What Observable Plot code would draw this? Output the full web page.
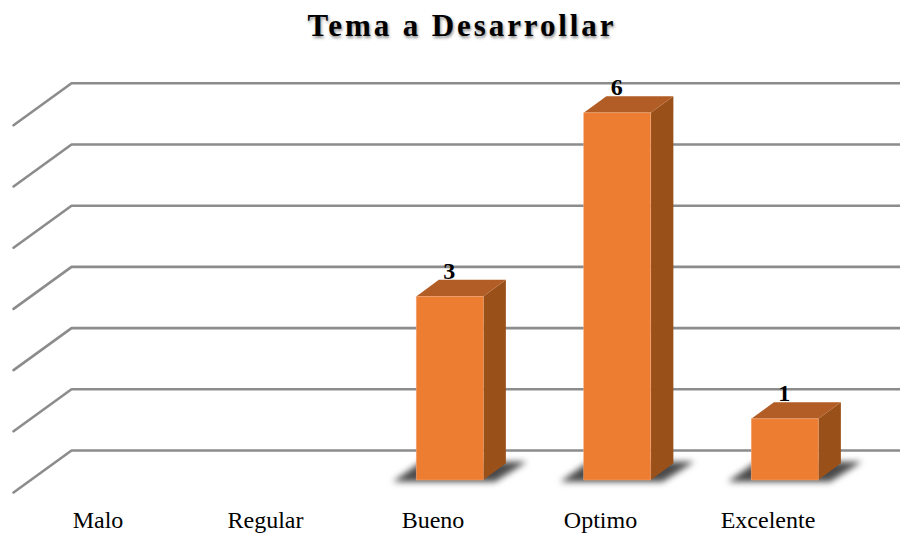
<!DOCTYPE html>
<html><head><meta charset="utf-8">
<script src="https://cdn.jsdelivr.net/npm/d3@7"></script>
<script src="https://cdn.jsdelivr.net/npm/@observablehq/plot@0.6"></script>
<style>
html,body{margin:0;padding:0;background:#fff;overflow:hidden}
#title{height:50px;text-align:center;font:bold 31px/51px "Liberation Serif",serif;letter-spacing:2.9px;color:#000;text-shadow:1px 2px 3px rgba(0,0,0,.45);padding-left:24px}
</style></head><body>
<div id="title">Tema a Desarrollar</div>
<div id="chart"></div>
<script>
const categories = ["Malo","Regular","Bueno","Optimo","Excelente"];
const values = [0,0,3,6,1];
const levels = [0,1,2,3,4,5,6];

const bars = categories.map((c,i)=>({c,i,v:values[i]})).filter(d=>d.v>0);
const cx = d=>d.i+0.1, hw=0.2, depX=0.135, depY=0.272;

const grid = levels.flatMap(l=>[
  {l,x:-0.507,y:l-0.196},
  {l,x:-0.161,y:l+0.49},
  {l,x:4.79,y:l+0.49}
]);
const sideFaces = bars.flatMap(d=>[
  {c:d.c,x:cx(d)+hw,y1:0,y2:d.v},
  {c:d.c,x:cx(d)+hw+depX,y1:depY,y2:d.v+depY}
]);
const topFaces = bars.flatMap(d=>[
  {c:d.c,y:d.v,x1:cx(d)-hw,x2:cx(d)+hw},
  {c:d.c,y:d.v+depY,x1:cx(d)-hw+depX,x2:cx(d)+hw+depX}
]);
const shadows = bars.flatMap(d=>[
  {c:d.c,y:-0.03,x1:cx(d)-0.34,x2:cx(d)+0.27},
  {c:d.c,y:0.3,x1:cx(d)-0.17,x2:cx(d)+0.46}
]);

const plot = Plot.plot({
  width:900,height:483,
  marginTop:0,marginRight:0,marginLeft:0,marginBottom:30,
  style:{fontFamily:"'Liberation Serif',serif",background:"transparent",color:"#000",overflow:"visible"},
  x:{type:"linear",domain:[-0.585,4.788],range:[0,900]},
  y:{type:"linear",axis:null,domain:[0,6],range:[430,62.8]},
  marks:[
    Plot.line(grid,{x:"x",y:"y",z:"l",stroke:"#8c8c8c",strokeWidth:2.6,strokeLinejoin:"miter"}),
    Plot.areaX(shadows,{y:"y",x1:"x1",x2:"x2",z:"c",fill:"#4a4a4a",imageFilter:"blur(3px)"}),
    Plot.areaY(sideFaces,{x:"x",y1:"y1",y2:"y2",z:"c",fill:"#9a5019"}),
    Plot.areaX(topFaces,{y:"y",x1:"x1",x2:"x2",z:"c",fill:"#b25d25"}),
    Plot.rect(bars,{x1:d=>cx(d)-hw,x2:d=>cx(d)+hw,y1:0,y2:"v",fill:"#ed7d31",stroke:"#f3a878",strokeWidth:0.6}),
    Plot.text(bars,{x:d=>cx(d),y:d=>d.v+depY,text:"v",dx:-1,dy:-9,fontSize:24,fontWeight:"bold",fill:"#000"}),
    Plot.axisX({ticks:categories.map((c,i)=>i),tickFormat:i=>categories[i],tickSize:0,tickPadding:7,dx:-0.5,fontSize:24,label:null,fill:"#000"})
  ]
});
document.getElementById("chart").appendChild(plot);
</script>
</body></html>
